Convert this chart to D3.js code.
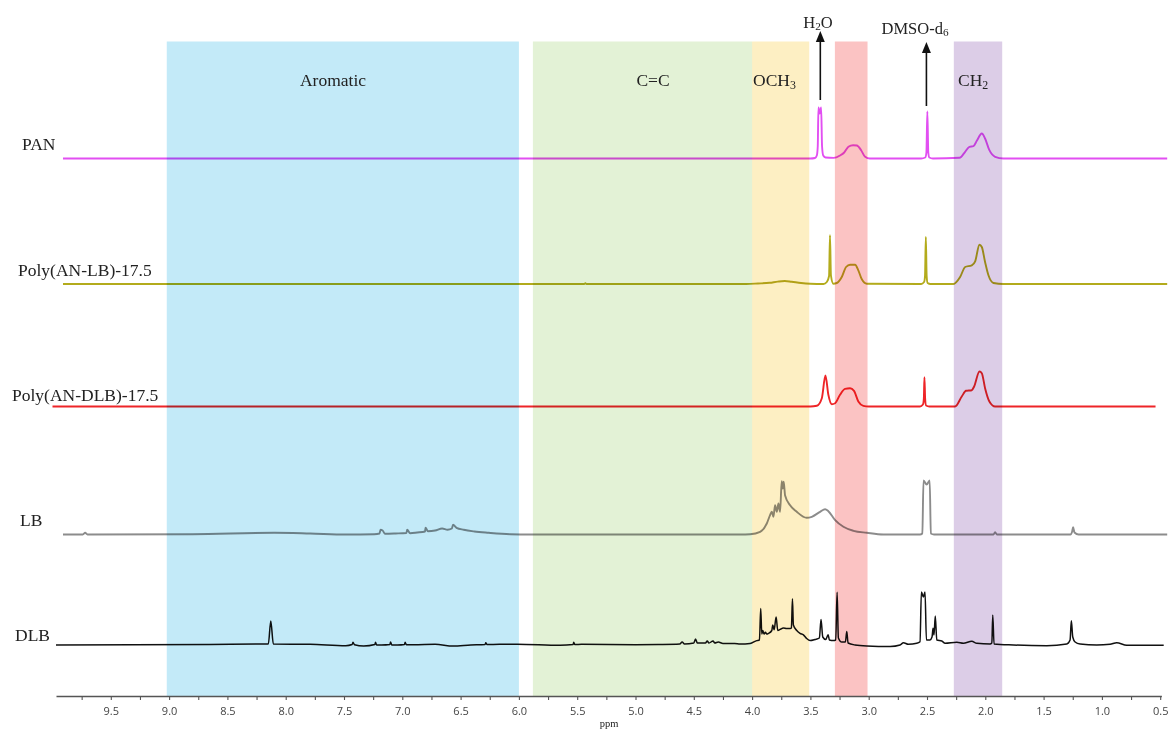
<!DOCTYPE html>
<html>
<head>
<meta charset="utf-8">
<script src="https://cdn.jsdelivr.net/npm/d3@7"></script>
<style>
  html, body { margin: 0; padding: 0; background: #fff; }
  svg { display: block; }
  text { font-family: "Liberation Serif", "Times New Roman", serif; fill: #222; }
  .tick text { font-family: "Open Sans", "DejaVu Sans", sans-serif; fill: #444; }
</style>
</head>
<body>
<svg id="chart" width="1170" height="734"></svg>
<script>
// ---------------- DATA ----------------
const seriesNames = ["PAN", "Poly(AN-LB)-17.5", "Poly(AN-DLB)-17.5", "LB", "DLB"];
const seriesColors = ["#e24ff2", "#b3ab1c", "#ee2528", "#8c8c8c", "#111111"];

// shaded chemical-shift regions [from ppm, to ppm]
const bandNames = ["Aromatic", "C=C", "OCH3", "", "CH2"];
const bandRanges = [[9.02, 6.0], [5.88, 4.0], [4.0, 3.51], [3.29, 3.01], [2.27, 1.855]];
const bandColors = ["#c3eaf8", "#e3f2d6", "#fdefc3", "#fbc3c3", "#dccde7"];

// solvent markers
const markerNames = ["H2O", "DMSO-d6"];
const markerPpm = [3.415, 2.505];

const tickValues = [9.75, 9.5, 9.25, 9.0, 8.75, 8.5, 8.25, 8.0, 7.75, 7.5, 7.25, 7.0, 6.75, 6.5, 6.25, 6.0,
  5.75, 5.5, 5.25, 5.0, 4.75, 4.5, 4.25, 4.0, 3.75, 3.5, 3.25, 3.0, 2.75, 2.5, 2.25, 2.0, 1.75, 1.5, 1.25, 1.0, 0.75, 0.5];
const tickLabels = ["9.5", "9.0", "8.5", "8.0", "7.5", "7.0", "6.5", "6.0", "5.5", "5.0", "4.5", "4.0", "3.5", "3.0", "2.5", "2.0", "1.5", "1.0", "0.5"];

// spectra: [ppm, intensity]
const panSpectrum = [
  [9.91, 0], [3.50, 0], [3.46, 0.5], [3.445, 3], [3.437, 12], [3.431, 51], [3.420, 45], [3.408, 51],
  [3.400, 12], [3.39, 3], [3.37, 1], [3.30, 0.6], [3.246, 3], [3.21, 6], [3.174, 11.7], [3.134, 13.3],
  [3.102, 13], [3.065, 8.3], [3.031, 1.7], [2.99, 0], [2.55, 0], [2.515, 1], [2.505, 6], [2.497, 47],
  [2.489, 6], [2.48, 1], [2.45, 0], [2.22, 0.7], [2.173, 6.7], [2.136, 11.7], [2.102, 12.3], [2.073, 17.7],
  [2.030, 25], [2.002, 20], [1.965, 8.3], [1.916, 1.7], [1.845, 0], [0.44, 0]
];
const polyLBSpectrum = [
  [9.91, 0], [5.44, 0], [5.43, 0.8], [5.42, 0], [4.05, 0], [3.95, 0.5], [3.85, 1.2], [3.78, 2.4], [3.72, 3],
  [3.66, 2.2], [3.58, 1], [3.50, 0.3], [3.388, 0], [3.359, 2], [3.340, 8], [3.332, 48.7], [3.324, 8.7],
  [3.303, 0.3], [3.274, 1], [3.231, 7], [3.194, 17], [3.160, 19.3], [3.117, 19.3], [3.089, 13.7],
  [3.059, 4.7], [3.016, 0.3], [2.55, 0], [2.525, 2], [2.517, 8], [2.510, 47], [2.503, 8], [2.495, 1],
  [2.47, 0], [2.274, 0], [2.216, 7], [2.173, 17], [2.116, 18.7], [2.087, 22.7], [2.050, 39.3], [2.030, 37],
  [2.002, 22], [1.973, 8.7], [1.930, 1], [1.845, 0], [0.44, 0]
];
const polyDLBSpectrum = [
  [10.0, 0], [3.50, 0], [3.445, 0.7], [3.402, 8.3], [3.371, 31], [3.346, 11.7], [3.317, 2.3], [3.288, 3.3],
  [3.246, 11.7], [3.203, 17.7], [3.160, 18.3], [3.126, 15.7], [3.089, 5], [3.046, 0.7], [3.00, 0],
  [2.56, 0], [2.535, 2], [2.527, 8], [2.522, 29.3], [2.516, 8], [2.508, 1], [2.48, 0], [2.259, 0],
  [2.202, 10], [2.165, 15.7], [2.116, 16.3], [2.096, 20], [2.050, 35], [2.030, 33.3], [2.002, 18.3],
  [1.965, 5], [1.916, 0], [0.54, 0]
];
const lbSpectrum = [
  [9.91, 0], [9.74, 0], [9.72, 1.7], [9.70, 0], [8.8, 0.3], [8.097, 1.7], [7.79, 1], [7.485, 0], [7.24, 0.3],
  [7.195, 1], [7.187, 4.7], [7.169, 4], [7.148, 0.7], [7.056, 1], [6.965, 1.5], [6.958, 4.7], [6.933, 1.3],
  [6.872, 2], [6.805, 3], [6.801, 6.7], [6.780, 3.3], [6.719, 4], [6.658, 6], [6.612, 4.7], [6.575, 6],
  [6.565, 9.7], [6.535, 6.7], [6.473, 4.7], [6.382, 3], [6.259, 1.7], [6.075, 0.3], [5.9, 0], [4.10, 0],
  [4.017, 0.3], [3.931, 2.7], [3.874, 11], [3.846, 19.3], [3.831, 22.7], [3.817, 17.7], [3.803, 29.3],
  [3.788, 22.7], [3.774, 31], [3.760, 22.7], [3.746, 53.3], [3.737, 46], [3.729, 52.7], [3.717, 39],
  [3.674, 29.3], [3.617, 22.7], [3.532, 16.7], [3.488, 17.7], [3.417, 22.7], [3.374, 25.3], [3.346, 23.3],
  [3.288, 14.3], [3.217, 7.7], [3.131, 3.7], [3.016, 1.7], [2.874, 0], [2.56, 0], [2.540, 1], [2.530, 54],
  [2.503, 50], [2.477, 54], [2.467, 1], [2.44, 0], [1.93, 0], [1.916, 2.3], [1.90, 0], [1.27, 0],
  [1.255, 3], [1.247, 7.3], [1.235, 2], [1.20, 0], [0.44, 0]
];
const dlbSpectrum = [
  [9.97, 0], [8.65, 0.5], [8.19, 1], [8.149, 1], [8.128, 24], [8.106, 1], [7.79, 0.7], [7.485, -0.7],
  [7.43, 0.5], [7.423, 2.7], [7.41, 0.3], [7.331, -1], [7.235, 0.5], [7.230, 2.7], [7.22, 0], [7.178, 0],
  [7.106, 0.5], [7.101, 3], [7.09, 0], [7.040, 0], [6.981, 0.5], [6.976, 2.7], [6.965, 0.3], [6.902, 0.3],
  [6.719, 0.7], [6.565, -1], [6.413, 0], [6.29, 0.5], [6.284, 2.3], [6.275, 0.5], [6.167, 0.7], [6.015, 0.7],
  [5.647, -0.3], [5.535, 0.5], [5.530, 2.7], [5.52, 0.5], [5.463, 0.7], [5.0, 0.3], [4.80, 0.5],
  [4.62, 1], [4.60, 3], [4.58, 1], [4.50, 2], [4.485, 6], [4.47, 2], [4.40, 2], [4.385, 4], [4.37, 2],
  [4.335, 4], [4.32, 2], [4.29, 3], [4.25, 1.5], [4.15, 1.5], [4.103, 1], [4.017, 1.5], [3.960, 4.4],
  [3.937, 5], [3.926, 36.4], [3.917, 10.9], [3.909, 14.5], [3.897, 10.9], [3.886, 12.7], [3.874, 10.9],
  [3.860, 11.6], [3.831, 14.5], [3.823, 20], [3.811, 15.3], [3.794, 28], [3.780, 14.5], [3.760, 15.6],
  [3.732, 17.1], [3.703, 16.4], [3.674, 16.4], [3.663, 17], [3.654, 46.2], [3.646, 20], [3.617, 14.5],
  [3.589, 11.6], [3.560, 10.2], [3.532, 6.5], [3.503, 4.4], [3.460, 5.5], [3.423, 7], [3.409, 25.5],
  [3.394, 8], [3.369, 5.5], [3.348, 10.2], [3.337, 5], [3.303, 4.4], [3.283, 5], [3.271, 52.7], [3.260, 7],
  [3.231, 2.9], [3.200, 3], [3.188, 13.5], [3.177, 2], [3.117, 0], [3.016, -1], [2.816, -1.5], [2.731, 0],
  [2.702, 2.3], [2.660, 0.7], [2.588, 1.7], [2.560, 3.3], [2.548, 53], [2.531, 48], [2.517, 53], [2.505, 5],
  [2.474, 5], [2.457, 8], [2.448, 16.7], [2.440, 10], [2.429, 29], [2.416, 5], [2.373, 4], [2.345, 1.7],
  [2.244, 2.7], [2.188, 1.7], [2.116, 3.7], [2.073, 1.7], [1.959, 1], [1.944, 2], [1.936, 30], [1.925, 1],
  [1.759, 0], [1.473, -0.7], [1.301, 1], [1.273, 5], [1.262, 24.3], [1.250, 8], [1.230, 3], [1.187, 1],
  [1.044, 0], [0.930, 0.7], [0.873, 2.3], [0.787, -0.3], [0.47, -0.3]
];
const spectra = [panSpectrum, polyLBSpectrum, polyDLBSpectrum, lbSpectrum, dlbSpectrum];

// ---------------- LAYOUT ----------------
const W = 1170, H = 734;
const axisY = 696, bandTop = 41.5;
const baselines = [158.5, 284, 406.5, 534.5, 645];
const labelPos = [[22, 150], [18, 276], [12, 401], [20, 526], [15, 641]];

const svg = d3.select("#chart");
svg.append("rect").attr("width", W).attr("height", H).attr("fill", "#fff");

const x = d3.scaleLinear().domain([9.97, 0.49]).range([56, 56 + (9.97 - 0.49) * 116.6]);
const y = d3.scaleLinear().domain([0, 100]).range([0, -100]);

// spectra
const line = d3.line().x(d => x(d[0])).y(d => y(d[1])).curve(d3.curveMonotoneX);
spectra.forEach((s, i) => {
  svg.append("path")
    .datum(s)
    .attr("transform", `translate(0,${baselines[i]})`)
    .attr("fill", "none")
    .attr("stroke", seriesColors[i])
    .attr("stroke-width", i === 4 ? 1.5 : 1.9)
    .attr("stroke-linejoin", "round")
    .attr("d", line);
});

// shaded bands (multiply so traces show through tinted)
svg.append("g").selectAll("rect").data(bandRanges).join("rect")
  .attr("x", d => x(d[0]))
  .attr("width", d => x(d[1]) - x(d[0]))
  .attr("y", bandTop)
  .attr("height", axisY - bandTop)
  .attr("fill", (d, i) => bandColors[i])
  .style("mix-blend-mode", "multiply");

// band labels
function subText(sel, str) {
  const m = str.match(/^(.*?)(\d+)$/);
  if (m && str !== "") {
    sel.append("tspan").text(m[1]);
    sel.append("tspan").attr("font-size", "0.68em").attr("dy", "0.22em").text(m[2]);
  } else {
    sel.text(str);
  }
}
const bandLabelX = [333, 653, 753, 0, 958];
const bandLabelAnchor = ["middle", "middle", "start", "middle", "start"];
bandNames.forEach((n, i) => {
  if (!n) return;
  const t = svg.append("text").attr("x", bandLabelX[i]).attr("y", 86)
    .attr("font-size", 17.5).attr("text-anchor", bandLabelAnchor[i]);
  if (n === "C=C" || n === "Aromatic") t.text(n); else subText(t, n);
});

// solvent markers with arrows
const markerBottoms = [100, 106];
const markerTips = [31, 42];
const markerTextX = [818, 915];
const markerTextY = [28, 34];
markerNames.forEach((n, i) => {
  const mx = x(markerPpm[i]);
  svg.append("line").attr("x1", mx).attr("x2", mx)
    .attr("y1", markerBottoms[i]).attr("y2", markerTips[i] + 9)
    .attr("stroke", "#111").attr("stroke-width", 1.6);
  svg.append("path")
    .attr("d", `M${mx},${markerTips[i]} L${mx - 4.5},${markerTips[i] + 11} L${mx + 4.5},${markerTips[i] + 11} Z`)
    .attr("fill", "#111");
  const t = svg.append("text").attr("x", markerTextX[i]).attr("y", markerTextY[i])
    .attr("font-size", 16.5).attr("text-anchor", "middle");
  if (n === "H2O") {
    t.append("tspan").text("H");
    t.append("tspan").attr("font-size", "0.68em").attr("dy", "0.22em").text("2");
    t.append("tspan").attr("dy", "-0.15em").text("O");
  } else {
    subText(t, n);
  }
});

// series labels
seriesNames.forEach((n, i) => {
  svg.append("text").attr("x", labelPos[i][0]).attr("y", labelPos[i][1])
    .attr("font-size", 17.5).text(n);
});

// axis
const majorSet = new Set(tickLabels);
const axis = d3.axisBottom(x)
  .tickValues(tickValues)
  .tickFormat(d => Math.abs(d * 2 - Math.round(d * 2)) < 1e-9 && majorSet.has(d.toFixed(1)) ? d.toFixed(1) : "")
  .tickSize(4)
  .tickSizeOuter(0)
  .tickPadding(7);
const ax = svg.append("g").attr("transform", `translate(0,${axisY})`).call(axis);
ax.select(".domain").attr("stroke", "#555").attr("stroke-width", 1.3);
ax.selectAll(".tick line").attr("stroke", "#555").attr("stroke-width", 1.1);
ax.selectAll(".tick text").attr("font-size", 11).attr("fill", "#444");

svg.append("text").attr("x", 609).attr("y", 727).attr("font-size", 10.5)
  .attr("text-anchor", "middle").text("ppm");
</script>
</body>
</html>
